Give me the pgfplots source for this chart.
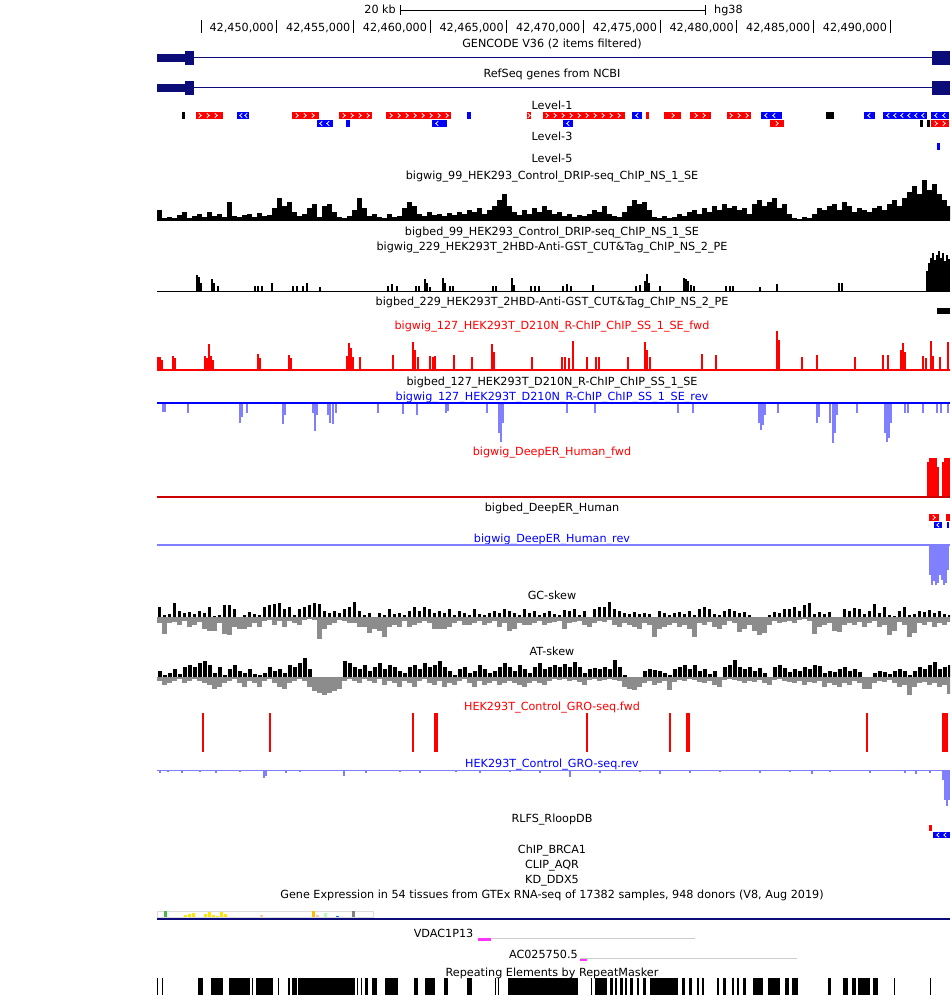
\documentclass[border=0pt]{standalone}
\usepackage{fontspec}
\setmainfont{DejaVu Sans}
\usepackage{pgfplots}
\pgfplotsset{compat=1.18}
\definecolor{navy}{RGB}{12,12,120}
\definecolor{lblue}{RGB}{128,128,255}
\definecolor{skgray}{RGB}{140,140,140}
\definecolor{mag}{RGB}{255,50,255}
\definecolor{lgray}{RGB}{205,205,205}
\newcommand{\tfont}{\fontsize{11.2}{13}\selectfont}
\newcommand{\tl}[3]{\node[anchor=base, text=#1, inner sep=0pt, font=\tfont] at (axis cs:552,#2) {#3};}
\newcommand{\tk}[2]{\node[anchor=base east, inner sep=0pt, font=\tfont] at (axis cs:#1,31.5) {#2};}
\pgfdeclareplotmark{chevR}{\pgfpathmoveto{\pgfqpoint{-1.2pt}{2.2pt}}\pgfpathlineto{\pgfqpoint{1.2pt}{0pt}}\pgfpathlineto{\pgfqpoint{-1.2pt}{-2.2pt}}\pgfusepathqstroke}
\pgfdeclareplotmark{chevL}{\pgfpathmoveto{\pgfqpoint{1.2pt}{2.2pt}}\pgfpathlineto{\pgfqpoint{-1.2pt}{0pt}}\pgfpathlineto{\pgfqpoint{1.2pt}{-2.2pt}}\pgfusepathqstroke}
\pgfplotsset{
  up/.style={only marks, mark=*, mark size=0pt, mark options={draw=none, fill=none}, error bars/.cd, y dir=minus, y explicit, error mark=none, error bar style={#1}},
  down/.style={only marks, mark=*, mark size=0pt, mark options={draw=none, fill=none}, error bars/.cd, y dir=plus, y explicit, error mark=none, error bar style={#1}},
  bed/.style={line width=#1, unbounded coords=jump, line cap=butt},
}
\begin{document}
\begin{tikzpicture}
\begin{axis}[scale only axis, width=950pt, height=995pt, xmin=0, xmax=950, ymin=0, ymax=995,
  y dir=reverse, axis lines=none, clip=true]
\draw[draw=none] (rel axis cs:0,0) rectangle (rel axis cs:1,1);
% ---------- ruler ----------
\addplot[black, line width=0.8pt, unbounded coords=jump] coordinates {(400,10)(705,10) (nan,nan) (400,5)(400,15) (nan,nan) (705,5)(705,15)};
\node[anchor=base east, inner sep=0pt, font=\tfont] at (axis cs:396,14) {20 kb};
\node[anchor=base west, inner sep=0pt, font=\tfont] at (axis cs:714,14) {hg38};
\addplot[black, line width=0.8pt, unbounded coords=jump] coordinates {(201,20.5)(201,33.5)(nan,nan)(276.7,20.5)(276.7,33.5)(nan,nan)(353.3,20.5)(353.3,33.5)(nan,nan)(430,20.5)(430,33.5)(nan,nan)(506.7,20.5)(506.7,33.5)(nan,nan)(583.3,20.5)(583.3,33.5)(nan,nan)(660,20.5)(660,33.5)(nan,nan)(736.7,20.5)(736.7,33.5)(nan,nan)(813.3,20.5)(813.3,33.5)(nan,nan)(890,20.5)(890,33.5)};
\tk{273.9}{42,450,000}
\tk{350.5}{42,455,000}
\tk{427.2}{42,460,000}
\tk{503.9}{42,465,000}
\tk{580.5}{42,470,000}
\tk{657.2}{42,475,000}
\tk{733.9}{42,480,000}
\tk{810.5}{42,485,000}
\tk{887.2}{42,490,000}
% ---------- GENCODE / RefSeq ----------
\tl{black}{47.3}{GENCODE V36 (2 items filtered)}
\addplot[navy, line width=1pt] coordinates {(157,58)(932,58)};
\addplot[navy, bed=8pt] coordinates {(157,58)(186,58)};
\addplot[navy, bed=14pt] coordinates {(185,58)(194,58)(nan,nan)(932,58)(950,58)};
\tl{black}{78}{RefSeq genes from NCBI}
\addplot[navy, line width=1pt] coordinates {(157,88)(932,88)};
\addplot[navy, bed=8pt] coordinates {(157,88)(186,88)};
\addplot[navy, bed=14pt] coordinates {(185,88)(194,88)(nan,nan)(932,88)(950,88)};
% ---------- Level tracks ----------
\tl{black}{110}{Level-1}
\addplot[red, bed=7.5pt] coordinates {(196,115.5)(223,115.5)(nan,nan)(292,115.5)(319,115.5)(nan,nan)(339,115.5)(372,115.5)(nan,nan)(386,115.5)(451,115.5)(nan,nan)(527,115.5)(531,115.5)(nan,nan)(543,115.5)(625,115.5)(nan,nan)(646,115.5)(649,115.5)(nan,nan)(664,115.5)(681,115.5)(nan,nan)(690,115.5)(711,115.5)(nan,nan)(727,115.5)(751,115.5)(nan,nan)(770,123.5)(784,123.5)(nan,nan)(931,123.5)(949,123.5)};
\addplot[blue, bed=7.5pt] coordinates {(237,115.5)(249,115.5)(nan,nan)(467,115.5)(471,115.5)(nan,nan)(632,115.5)(642,115.5)(nan,nan)(761,115.5)(782,115.5)(nan,nan)(864,115.5)(875,115.5)(nan,nan)(883,115.5)(927,115.5)(nan,nan)(931,115.5)(949,115.5)(nan,nan)(317,123.5)(333,123.5)(nan,nan)(346,123.5)(350,123.5)(nan,nan)(432,123.5)(447,123.5)(nan,nan)(563,123.5)(573,123.5)};
\addplot[black, bed=7.5pt] coordinates {(182,115.5)(185,115.5)(nan,nan)(826,115.5)(834,115.5)(nan,nan)(920,123.5)(923,123.5)(nan,nan)(927,123.5)(930,123.5)};
\addplot[only marks, mark=chevR, color=white, mark options={line width=0.8pt}] coordinates {(200,115.5)(208,115.5)(216,115.5)(297,115.5)(305,115.5)(313,115.5)(344,115.5)(352,115.5)(360,115.5)(368,115.5)(391,115.5)(399,115.5)(407,115.5)(415,115.5)(423,115.5)(431,115.5)(439,115.5)(447,115.5)(529,115.5)(547,115.5)(555,115.5)(563,115.5)(571,115.5)(579,115.5)(587,115.5)(595,115.5)(603,115.5)(611,115.5)(619,115.5)(673,115.5)(696,115.5)(704,115.5)(731,115.5)(739,115.5)(747,115.5)(777,123.5)(936,123.5)(944,123.5)};
\addplot[only marks, mark=chevL, color=white, mark options={line width=0.8pt}] coordinates {(241,115.5)(246,115.5)(637,115.5)(766,115.5)(774,115.5)(869,115.5)(888,115.5)(895,115.5)(902,115.5)(909,115.5)(916,115.5)(923,115.5)(936,115.5)(944,115.5)(321,123.5)(328,123.5)(437,123.5)(568,123.5)};
\tl{black}{140.5}{Level-3}
\addplot[blue, bed=7pt] coordinates {(937.3,146.5)(940,146.5)};
\tl{black}{163}{Level-5}
% ---------- DRIP ----------
\tl{black}{179}{bigwig\_99\_HEK293\_Control\_DRIP-seq\_ChIP\_NS\_1\_SE}
\addplot[up={black, line width=5pt}] table[header=false, row sep=\\, x expr=159.5+5*\coordindex, y expr=220, y error expr=\thisrowno{0}] {
10\\2\\3\\2\\5\\8\\2\\4\\6\\3\\
8\\4\\6\\3\\18\\4\\3\\5\\6\\3\\
7\\4\\5\\12\\22\\14\\18\\8\\4\\6\\
12\\16\\3\\14\\16\\8\\3\\2\\4\\10\\
22\\12\\4\\6\\3\\2\\6\\3\\4\\12\\
18\\14\\6\\4\\8\\5\\6\\4\\7\\5\\
8\\6\\10\\8\\12\\6\\10\\14\\20\\26\\
14\\8\\5\\10\\6\\12\\8\\14\\10\\6\\
8\\4\\6\\3\\5\\4\\6\\10\\8\\14\\
6\\4\\3\\8\\14\\20\\16\\18\\10\\3\\
2\\4\\2\\3\\6\\4\\8\\10\\6\\12\\
8\\14\\10\\16\\12\\14\\10\\12\\6\\16\\
20\\14\\18\\22\\12\\16\\6\\2\\1\\3\\
2\\6\\12\\10\\14\\16\\10\\18\\14\\8\\
12\\10\\8\\12\\14\\10\\16\\20\\14\\22\\
28\\34\\26\\40\\30\\36\\26\\20\\14\\
};
\addplot[black, line width=0.8pt] coordinates {(157,220)(950,220)};
\tl{black}{235}{bigbed\_99\_HEK293\_Control\_DRIP-seq\_ChIP\_NS\_1\_SE}
% ---------- CUT&Tag ----------
\tl{black}{250}{bigwig\_229\_HEK293T\_2HBD-Anti-GST\_CUT\&Tag\_ChIP\_NS\_2\_PE}
\addplot[up={black, line width=2.5pt}] table[header=false, row sep=\\, x index=0, y expr=291, y error index=1] {
197 16\\199 14\\201 8\\212 12\\214 8\\218 5\\255 5\\258 5\\262 5\\272 8\\293 5\\297 5\\303 5\\307 8\\320 4\\388 5\\392 7\\397 5\\416 5\\419 5\\425 12\\427 8\\430 4\\443 13\\445 8\\450 5\\453 5\\493 5\\496 5\\512 13\\514 6\\531 5\\535 5\\539 5\\563 5\\567 7\\571 5\\593 6\\636 5\\640 6\\645 10\\647 17\\649 8\\660 5\\684 13\\686 12\\688 10\\691 6\\694 5\\726 5\\730 5\\733 5\\760 4\\777 7\\839 8\\842 8\\927 20\\929 28\\931 33\\933 38\\935 31\\937 36\\939 40\\941 33\\943 38\\945 30\\947 36\\949 32\\
};
\addplot[black, line width=1pt] coordinates {(157,291)(950,291)};
\tl{black}{305}{bigbed\_229\_HEK293T\_2HBD-Anti-GST\_CUT\&Tag\_ChIP\_NS\_2\_PE}
\addplot[black, bed=6pt] coordinates {(937,311)(950,311)};
% ---------- R-ChIP ----------
\tl{red}{329}{bigwig\_127\_HEK293T\_D210N\_R-ChIP\_ChIP\_SS\_1\_SE\_fwd}
\addplot[up={red, line width=2pt}] table[header=false, row sep=\\, x index=0, y expr=370, y error index=1] {
158 13\\160 13\\162 10\\173 14\\175 12\\205 14\\207 12\\209 26\\211 14\\213 10\\258 16\\260 12\\289 15\\291 12\\347 14\\349 27\\351 22\\353 13\\360 13\\393 15\\413 28\\415 20\\418 13\\430 14\\433 13\\435 14\\454 15\\472 13\\492 26\\494 18\\532 13\\562 13\\565 13\\569 12\\573 29\\587 13\\596 13\\599 13\\628 13\\645 28\\647 20\\650 13\\702 16\\716 15\\777 39\\779 30\\802 13\\817 15\\855 13\\883 15\\888 15\\901 20\\903 27\\905 18\\923 14\\926 12\\931 29\\933 14\\940 13\\948 28\\
};
\addplot[red, line width=1.5pt] coordinates {(157,370)(950,370)};
\tl{black}{385}{bigbed\_127\_HEK293T\_D210N\_R-ChIP\_ChIP\_SS\_1\_SE}
\tl{blue}{400}{bigwig\_127\_HEK293T\_D210N\_R-ChIP\_ChIP\_SS\_1\_SE\_rev}
\addplot[down={lblue, line width=2pt}] table[header=false, row sep=\\, x index=0, y expr=403, y error index=1] {
163 9\\165 9\\188 10\\240 20\\242 14\\247 10\\283 21\\285 12\\313 10\\315 28\\317 12\\328 12\\330 20\\333 21\\336 10\\378 10\\403 11\\417 12\\446 10\\448 8\\487 10\\499 30\\501 39\\503 20\\567 10\\595 10\\678 10\\693 10\\759 20\\761 27\\763 22\\765 12\\778 10\\817 20\\819 14\\830 20\\833 40\\835 30\\837 12\\857 10\\885 30\\887 39\\889 35\\891 20\\905 10\\908 10\\923 10\\937 10\\941 10\\948 10\\
};
\addplot[blue, line width=1.2pt] coordinates {(157,403)(950,403)};
% ---------- DeepER ----------
\tl{red}{455}{bigwig\_DeepER\_Human\_fwd}
\addplot[up={red, line width=2pt}] table[header=false, row sep=\\, x index=0, y expr=497, y error index=1] {
928 35\\930 39\\932 39\\934 39\\936 39\\938 30\\943 35\\945 39\\947 39\\949 39\\
};
\addplot[red!80!black, line width=1.2pt] coordinates {(157,497)(950,497)};
\tl{black}{511}{bigbed\_DeepER\_Human}
\addplot[red, bed=7pt] coordinates {(929,517.5)(939,517.5)(nan,nan)(946,517.5)(950,517.5)};
\addplot[blue, bed=6pt] coordinates {(934,525)(942,525)(nan,nan)(947,525)(949,525)};
\addplot[only marks, mark=chevR, color=white, mark options={line width=0.8pt}] coordinates {(934,517.5)};
\addplot[only marks, mark=chevL, color=white, mark options={line width=0.8pt}] coordinates {(938,525)};
\tl{blue}{542}{bigwig\_DeepER\_Human\_rev}
\addplot[down={lblue, line width=2pt}] table[header=false, row sep=\\, x index=0, y expr=545, y error index=1] {
930 30\\932 40\\934 36\\936 40\\938 38\\940 30\\942 35\\944 40\\946 38\\948 25\\
};
\addplot[lblue, line width=1.2pt] coordinates {(157,545)(950,545)};
% ---------- GC skew ----------
\tl{black}{599}{GC-skew}
\addplot[down={skgray, line width=5pt}] table[header=false, row sep=\\, x expr=159.5+5*\coordindex, y expr=617, y error expr=\thisrowno{0}] {
6\\17\\6\\5\\8\\4\\10\\8\\5\\12\\
14\\14\\6\\17\\18\\10\\12\\12\\10\\6\\
10\\4\\3\\8\\4\\10\\4\\6\\8\\3\\
2\\3\\22\\12\\8\\6\\3\\4\\6\\6\\
10\\10\\16\\12\\14\\20\\10\\8\\10\\4\\
10\\8\\6\\4\\6\\12\\12\\12\\10\\6\\
4\\8\\8\\6\\4\\8\\6\\4\\10\\6\\
14\\12\\6\\8\\8\\6\\4\\8\\6\\
5\\4\\12\\6\\5\\4\\8\\10\\6\\4\\
5\\3\\8\\10\\6\\8\\10\\12\\6\\8\\
20\\12\\10\\8\\6\\10\\8\\12\\20\\6\\
8\\5\\10\\12\\8\\4\\6\\15\\12\\8\\
14\\18\\16\\8\\4\\6\\5\\4\\6\\3\\
2\\4\\17\\10\\8\\6\\14\\15\\8\\6\\
8\\5\\10\\6\\4\\10\\8\\18\\14\\5\\
8\\20\\16\\6\\8\\5\\10\\6\\8\\5\\
};
\addplot[up={black, line width=3pt}] table[header=false, row sep=\\, x expr=159.5+5*\coordindex, y expr=617, y error expr=\thisrowno{0}] {
10\\2\\3\\14\\6\\4\\5\\3\\6\\4\\
10\\1\\2\\12\\12\\8\\0\\2\\5\\3\\
2\\10\\12\\13\\14\\8\\10\\2\\8\\10\\
12\\14\\13\\6\\4\\6\\4\\8\\10\\15\\
6\\2\\4\\0\\4\\2\\8\\3\\4\\2\\
6\\10\\6\\10\\8\\4\\6\\4\\8\\2\\
6\\4\\2\\8\\3\\2\\4\\6\\4\\8\\
6\\4\\2\\8\\4\\6\\2\\4\\6\\
3\\2\\7\\6\\8\\2\\6\\0\\8\\10\\
10\\15\\8\\6\\4\\3\\5\\3\\4\\3\\
0\\6\\4\\2\\4\\5\\3\\6\\2\\8\\
10\\8\\3\\2\\6\\8\\6\\4\\5\\2\\
0\\0\\0\\2\\5\\4\\8\\8\\10\\6\\
12\\14\\3\\5\\3\\5\\0\\0\\8\\6\\
9\\8\\3\\6\\13\\4\\10\\2\\1\\6\\
10\\2\\3\\6\\5\\7\\4\\6\\3\\2\\
};
% ---------- AT skew ----------
\tl{black}{655}{AT-skew}
\addplot[down={skgray, line width=5pt}] table[header=false, row sep=\\, x expr=159.5+5*\coordindex, y expr=677, y error expr=\thisrowno{0}] {
4\\8\\6\\4\\2\\6\\4\\2\\4\\6\\
8\\12\\10\\6\\4\\2\\6\\10\\4\\6\\
10\\4\\2\\6\\10\\12\\6\\4\\2\\4\\
10\\14\\16\\18\\16\\14\\12\\4\\2\\4\\
6\\2\\4\\6\\2\\8\\4\\6\\10\\4\\
6\\10\\4\\2\\6\\8\\4\\10\\6\\8\\
4\\2\\6\\10\\4\\8\\6\\4\\8\\6\\
4\\6\\8\\10\\6\\4\\6\\8\\4\\
2\\3\\2\\4\\3\\5\\8\\3\\2\\4\\
3\\2\\3\\4\\10\\12\\13\\10\\6\\4\\
8\\6\\4\\13\\5\\3\\4\\2\\3\\5\\
6\\4\\8\\10\\3\\2\\3\\4\\6\\4\\
5\\3\\6\\8\\3\\2\\4\\5\\6\\4\\
8\\5\\6\\4\\10\\6\\8\\10\\6\\8\\
4\\6\\12\\12\\6\\4\\5\\3\\6\\10\\
8\\18\\10\\6\\5\\8\\6\\10\\8\\17\\
};
\addplot[up={black, line width=4pt}] table[header=false, row sep=\\, x expr=159.5+5*\coordindex, y expr=677, y error expr=\thisrowno{0}] {
6\\2\\4\\8\\3\\10\\12\\10\\14\\16\\
12\\4\\10\\2\\8\\12\\6\\4\\8\\3\\
2\\4\\10\\6\\8\\4\\12\\10\\14\\19\\
8\\0\\0\\0\\0\\0\\0\\16\\14\\10\\
8\\12\\6\\10\\14\\8\\12\\10\\6\\4\\
10\\12\\8\\14\\10\\12\\16\\10\\6\\2\\
8\\10\\4\\6\\12\\8\\4\\6\\10\\14\\
10\\6\\12\\8\\4\\10\\14\\8\\10\\
12\\10\\13\\10\\15\\10\\4\\8\\9\\8\\
10\\8\\17\\10\\2\\0\\0\\0\\6\\8\\
7\\6\\4\\2\\8\\10\\12\\8\\12\\6\\
8\\3\\6\\0\\10\\12\\17\\10\\8\\10\\
6\\9\\4\\0\\10\\12\\9\\5\\8\\6\\
10\\8\\12\\11\\4\\6\\5\\8\\10\\6\\
8\\5\\0\\0\\4\\6\\5\\3\\6\\8\\
6\\2\\6\\10\\8\\12\\15\\8\\10\\12\\
};
% ---------- GRO-seq ----------
\tl{red}{710}{HEK293T\_Control\_GRO-seq.fwd}
\addplot[up={red, line width=2.2pt}] table[header=false, row sep=\\, x index=0, y expr=752, y error index=1] {
203 39\\270 39\\413 39\\435 39\\436.5 39\\587 39\\670 39\\687 39\\689 39\\867 39\\943 39\\945 39\\946.5 39\\
};
\tl{blue}{767}{HEK293T\_Control\_GRO-seq.rev}
\addplot[down={lblue, line width=2pt}] table[header=false, row sep=\\, x index=0, y expr=770, y error index=1] {
160 3\\168 2\\182 3\\200 2\\216 3\\240 2\\264 8\\266 6\\286 3\\300 2\\344 6\\366 3\\400 2\\420 3\\456 2\\480 3\\510 2\\540 3\\570 7\\600 3\\640 2\\660 4\\690 3\\720 2\\760 3\\790 2\\812 4\\830 2\\870 3\\905 3\\916 4\\930 3\\943 10\\945 30\\947 36\\949 30\\
};
\addplot[lblue, line width=1pt] coordinates {(157,770)(950,770)};
% ---------- RLFS ----------
\tl{black}{822}{RLFS\_RloopDB}
\addplot[red, bed=6pt] coordinates {(929,828)(932,828)};
\addplot[blue, bed=6pt] coordinates {(933,835)(950,835)};
\addplot[only marks, mark=chevL, color=white, mark options={line width=0.8pt}] coordinates {(938,835)(945,835)};
\tl{black}{853}{ChIP\_BRCA1}
\tl{black}{868}{CLIP\_AQR}
\tl{black}{883}{KD\_DDX5}
% ---------- GTEx ----------
\tl{black}{898}{Gene Expression in 54 tissues from GTEx RNA-seq of 17382 samples, 948 donors (V8, Aug 2019)}
\addplot[lgray!70, line width=0.8pt] coordinates {(157,911)(373,911)(373,917)(157,917)} -- cycle;
\addplot[up={green!45!gray, line width=2.7pt}] table[header=false, row sep=\\, x index=0, y expr=917, y error index=1] {165.3 6\\};
\addplot[up={yellow!90!orange, line width=2.7pt}] table[header=false, row sep=\\, x index=0, y expr=917, y error index=1] {185.3 2\\189.2 3.5\\193.2 4\\205.3 3\\209.3 5\\213.3 2\\217.2 1.5\\221.5 5\\225.5 3\\};
\addplot[up={orange!40, line width=2.7pt}] table[header=false, row sep=\\, x index=0, y expr=917, y error index=1] {261.3 2\\};
\addplot[up={orange!50!yellow, line width=2.7pt}] table[header=false, row sep=\\, x index=0, y expr=917, y error index=1] {313.3 6\\};
\addplot[up={pink, line width=2.7pt}] table[header=false, row sep=\\, x index=0, y expr=917, y error index=1] {317.2 2\\};
\addplot[up={green!30, line width=2.7pt}] table[header=false, row sep=\\, x index=0, y expr=917, y error index=1] {325.3 4\\};
\addplot[up={blue!60!cyan, line width=2.7pt}] table[header=false, row sep=\\, x index=0, y expr=917, y error index=1] {337.3 1\\};
\addplot[up={gray, line width=2.7pt}] table[header=false, row sep=\\, x index=0, y expr=917, y error index=1] {353.2 6\\};
\addplot[navy, line width=2.5pt] coordinates {(157,919)(950,919)};
% ---------- lncRNA ----------
\node[anchor=base east, inner sep=0pt, font=\tfont] at (axis cs:473.5,937.5) {VDAC1P13};
\addplot[lgray, line width=1.3pt] coordinates {(478,938.5)(695,938.5)};
\addplot[mag, line width=2.2pt] coordinates {(478,939.5)(491,939.5)};
\node[anchor=base east, inner sep=0pt, font=\tfont] at (axis cs:578,958) {AC025750.5};
\addplot[lgray, line width=1.3pt] coordinates {(580,958.5)(797,958.5)};
\addplot[mag, line width=2.2pt] coordinates {(580,960)(587,960)};
% ---------- RepeatMasker ----------
\tl{black}{976.5}{Repeating Elements by RepeatMasker}
\addplot[black, bed=17pt] coordinates {
(157.3,986.5)(158.3,986.5)(nan,nan)(161.7,986.5)(162.7,986.5)(nan,nan)(198.3,986.5)(203.3,986.5)(nan,nan)(210.7,986.5)(222.7,986.5)(nan,nan)(229,986.5)(250,986.5)(nan,nan)(251.7,986.5)(253,986.5)(nan,nan)(256,986.5)(273.3,986.5)(nan,nan)(277.5,986.5)(278.5,986.5)(nan,nan)(288.3,986.5)(290,986.5)(nan,nan)(291.7,986.5)(296.7,986.5)(nan,nan)(298.3,986.5)(355,986.5)(nan,nan)(357.3,986.5)(358.3,986.5)(nan,nan)(360.7,986.5)(361.7,986.5)(nan,nan)(365,986.5)(368.3,986.5)(nan,nan)(371.7,986.5)(376.7,986.5)(nan,nan)(385,986.5)(398.3,986.5)(nan,nan)(414.3,986.5)(417.7,986.5)(nan,nan)(425,986.5)(435,986.5)(nan,nan)(444.3,986.5)(448.3,986.5)(nan,nan)(466.7,986.5)(471.7,986.5)(nan,nan)(495,986.5)(496,986.5)(nan,nan)(498.3,986.5)(499.3,986.5)(nan,nan)(508.3,986.5)(578.3,986.5)(nan,nan)(590.7,986.5)(591.7,986.5)(nan,nan)(595,986.5)(606.7,986.5)(nan,nan)(610,986.5)(612.7,986.5)(nan,nan)(615,986.5)(616.7,986.5)(nan,nan)(620,986.5)(622.7,986.5)(nan,nan)(625,986.5)(627.3,986.5)(nan,nan)(630,986.5)(632.7,986.5)(nan,nan)(636.7,986.5)(639.3,986.5)(nan,nan)(643.3,986.5)(646,986.5)(nan,nan)(650,986.5)(678.3,986.5)(nan,nan)(681.7,986.5)(685,986.5)(nan,nan)(689.3,986.5)(691.7,986.5)(nan,nan)(696.7,986.5)(699.3,986.5)(nan,nan)(701.7,986.5)(704,986.5)(nan,nan)(716.7,986.5)(719.3,986.5)(nan,nan)(723.3,986.5)(726,986.5)(nan,nan)(731.7,986.5)(734.3,986.5)(nan,nan)(736.7,986.5)(739.3,986.5)(nan,nan)(743.3,986.5)(746,986.5)(nan,nan)(753.3,986.5)(763.3,986.5)(nan,nan)(768.3,986.5)(780,986.5)(nan,nan)(785,986.5)(789.3,986.5)(nan,nan)(791.7,986.5)(798.3,986.5)(nan,nan)(828.3,986.5)(830.7,986.5)(nan,nan)(843.3,986.5)(847.7,986.5)(nan,nan)(851.7,986.5)(856,986.5)(nan,nan)(858.3,986.5)(870,986.5)(nan,nan)(872.7,986.5)(878.3,986.5)(nan,nan)(894,986.5)(895.3,986.5)(nan,nan)(930,986.5)(931,986.5)};
\end{axis}
\end{tikzpicture}
\end{document}
